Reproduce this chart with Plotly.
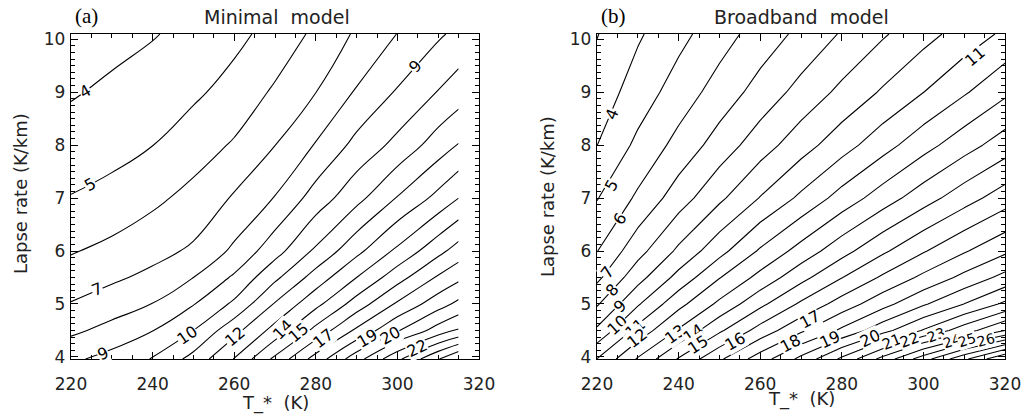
import plotly.graph_objects as go

# ---------------- data ----------------
# Panel (a): Minimal model
T_a = [220, 230, 240, 250, 260, 270, 280, 290, 300, 310, 315]
L_a = [3.96, 4.5, 5, 5.5, 6, 7, 8, 9, 10.1]
Z_a = [
    [8.8, 9.36, 10.05, 11.34, 13.04, 15.24, 17.41, 19.59, 21.76, 23.93, 25.02],
    [7.8, 8.31, 8.97, 10.0, 11.67, 13.36, 15.3, 17.19, 18.9, 20.44, 21.1],
    [7.05, 7.53, 8.02, 8.95, 10.19, 12.08, 13.71, 15.45, 17.15, 18.57, 19.25],
    [6.47, 6.82, 7.26, 8.0, 9.15, 10.78, 12.43, 14.0, 15.59, 17.13, 17.76],
    [5.92, 6.29, 6.67, 7.16, 8.2, 9.62, 11.18, 12.73, 14.21, 15.7, 16.45],
    [5.04, 5.25, 5.78, 6.31, 7.11, 8.05, 9.44, 10.69, 12.06, 13.3, 14.0],
    [4.47, 4.73, 4.99, 5.52, 6.11, 6.99, 8.07, 9.3, 10.29, 11.48, 12.05],
    [3.9, 4.21, 4.52, 4.83, 5.35, 6.15, 6.99, 8.1, 9.1, 10.05, 10.51],
    [3.35, 3.64, 3.93, 4.32, 4.74, 5.34, 6.21, 7.14, 8.02, 8.85, 9.25],
]

# Panel (b): Broadband model
T_b = [220, 230, 240, 250, 260, 270, 280, 290, 300, 310, 320]
L_b = [3.96, 4.5, 5, 5.5, 6, 7, 8, 9, 10.1]
Z_b = [
    [11.02, 13.1, 15.09, 16.83, 18.5, 20.27, 22.2, 24.33, 26.56, 28.78, 31.0],
    [9.18, 11.33, 13.1, 14.83, 16.39, 17.82, 19.19, 20.64, 22.08, 23.54, 25.0],
    [7.88, 9.88, 11.69, 13.22, 14.75, 16.17, 17.44, 18.64, 19.87, 21.01, 22.2],
    [6.76, 8.63, 10.33, 11.95, 13.31, 14.68, 15.97, 17.15, 18.23, 19.27, 20.32],
    [5.97, 7.64, 9.2, 10.67, 12.13, 13.39, 14.64, 15.82, 16.91, 17.9, 18.81],
    [4.95, 6.17, 7.52, 8.8, 10.05, 11.21, 12.4, 13.5, 14.56, 15.57, 16.52],
    [3.99, 5.23, 6.32, 7.44, 8.54, 9.57, 10.58, 11.6, 12.63, 13.59, 14.5],
    [3.43, 4.46, 5.46, 6.42, 7.39, 8.34, 9.24, 10.12, 10.99, 11.89, 12.81],
    [2.96, 3.87, 4.7, 5.57, 6.43, 7.25, 8.09, 8.88, 9.65, 10.42, 11.19],
]

# contour labels (value, T, lapse rate, text angle, font size)
lab_a_text = ["4", "5", "7", "9", "10", "12", "14", "15", "17", "19", "20", "22", "9"]
lab_a_T = [223.4, 224.7, 226.3, 227.9, 248.4, 260.2, 272.0, 275.7, 281.8, 292.5, 298.2, 304.7, 304.3]
lab_a_L = [9.02, 7.26, 5.28, 4.06, 4.41, 4.38, 4.51, 4.47, 4.35, 4.35, 4.41, 4.16, 9.49]
lab_a_ang = [-30, -30, -22, -25, -35, -40, -45, -40, -38, -30, -30, -25, -48]
lab_a_size = [16] * 13

lab_b_text = ["4", "5", "6", "7", "8", "9", "10", "11", "12", "13", "14", "15", "16",
              "17", "18", "19", "20", "21", "22", "23", "24", "25", "26", "11"]
lab_b_T = [223.6, 223.6, 225.7, 222.5, 223.6, 225.6, 224.8, 229.3, 229.7, 239.1, 243.6, 244.8, 253.8,
           272.2, 267.3, 277.1, 286.9, 292.2, 296.7, 303.0, 306.9, 310.6, 315.3, 312.7]
lab_b_L = [8.58, 7.23, 6.61, 5.6, 5.26, 4.95, 4.6, 4.54, 4.35, 4.42, 4.45, 4.23, 4.29,
           4.7, 4.26, 4.32, 4.35, 4.29, 4.32, 4.42, 4.3, 4.32, 4.32, 9.67]
lab_b_ang = [-67, -60, -57, -53, -49, -45, -42, -40, -38, -36, -34, -33, -30,
             -28, -28, -25, -25, -22, -20, -20, -18, -18, -15, -40]
lab_b_size = [16] * 17 + [15, 15, 14, 14, 14, 14, 16]

x_ticks = [220, 240, 260, 280, 300, 320]
y_ticks = [4, 5, 6, 7, 8, 9, 10]

# ---------------- figure ----------------
FONT = "DejaVu Sans"
W, H = 1024, 418
fig = go.Figure()

for xs, ys, zs, xa, ya, sm in [(T_a, L_a, Z_a, "x", "y", 1.3), (T_b, L_b, Z_b, "x2", "y2", 0)]:
    fig.add_trace(go.Contour(
        x=xs, y=ys, z=zs, xaxis=xa, yaxis=ya,
        contours=dict(start=3, end=31, size=1, coloring="lines", showlabels=False),
        colorscale=[[0, "black"], [1, "black"]],
        line=dict(width=1.1, smoothing=sm), showscale=False, hoverinfo="skip",
    ))

ax_common = dict(
    showgrid=False, zeroline=False, showline=True, linecolor="black", linewidth=1.3,
    mirror="ticks", ticks="inside", ticklen=7, tickwidth=1, tickcolor="black",
    tickfont=dict(family=FONT, size=17, color="#222"), automargin=False,
)
xdom_a = [71 / W, 479 / W]
xdom_b = [597 / W, 1005 / W]
ydom = [(H - 359) / H, (H - 34) / H]

xaxis_kw = dict(ax_common, range=[220, 320], tickvals=x_ticks, ticklabelstandoff=9,
                minor=dict(ticks="inside", ticklen=3.5, dtick=5, tick0=220, tickcolor="black"))
yaxis_kw = dict(ax_common, range=[3.96, 10.1], tickvals=y_ticks, ticklabelstandoff=1,
                minor=dict(ticks="inside", ticklen=3.5, dtick=0.125, tick0=4, tickcolor="black"))

fig.update_layout(
    width=W, height=H, margin=dict(l=0, r=0, t=0, b=0, autoexpand=False),
    paper_bgcolor="white", plot_bgcolor="white", showlegend=False,
    xaxis=dict(xaxis_kw, domain=xdom_a, anchor="y"),
    yaxis=dict(yaxis_kw, domain=ydom, anchor="x"),
    xaxis2=dict(xaxis_kw, domain=xdom_b, anchor="y2"),
    yaxis2=dict(yaxis_kw, domain=ydom, anchor="x2"),
)

ann = []
for txt, tx, ly, ang, sz in zip(lab_a_text, lab_a_T, lab_a_L, lab_a_ang, lab_a_size):
    ann.append(dict(x=tx, y=ly, xref="x", yref="y", text=txt, showarrow=False, textangle=ang,
                    font=dict(family=FONT, size=sz, color="black"), bgcolor="white", borderpad=0))
for txt, tx, ly, ang, sz in zip(lab_b_text, lab_b_T, lab_b_L, lab_b_ang, lab_b_size):
    ann.append(dict(x=tx, y=ly, xref="x2", yref="y2", text=txt, showarrow=False, textangle=ang,
                    font=dict(family=FONT, size=sz, color="black"), bgcolor="white", borderpad=0))


def P(px, py):
    return px / W, 1 - py / H


title_font = dict(family=FONT, size=19, color="#222")
axis_font = dict(family=FONT, size=18, color="#222")
NB = "\u00a0"
for (px, py), txt, f, ang in [
    ((277, 17), "Minimal" + NB + NB + "model", title_font, 0),
    ((801, 17), "Broadband" + NB + NB + "model", title_font, 0),
    ((275, 403), "T_*" + NB + NB + "(K)", axis_font, 0),
    ((801, 399), "T_*" + NB + NB + "(K)", axis_font, 0),
    ((20, 194), "Lapse rate (K/km)", axis_font, -90),
    ((547, 197), "Lapse rate (K/km)", axis_font, -90),
]:
    x, y = P(px, py)
    ann.append(dict(x=x, y=y, xref="paper", yref="paper", text=txt, showarrow=False,
                    textangle=ang, font=f, xanchor="center", yanchor="middle"))
for (px, py), txt in [((73, 16), "(a)"), ((599, 16), "(b)")]:
    x, y = P(px, py)
    ann.append(dict(x=x, y=y, xref="paper", yref="paper", text=txt, showarrow=False,
                    xanchor="left", yanchor="middle",
                    font=dict(family="Liberation Serif", size=21, color="black")))
fig.update_layout(annotations=ann)

fig.write_html("out.html")
